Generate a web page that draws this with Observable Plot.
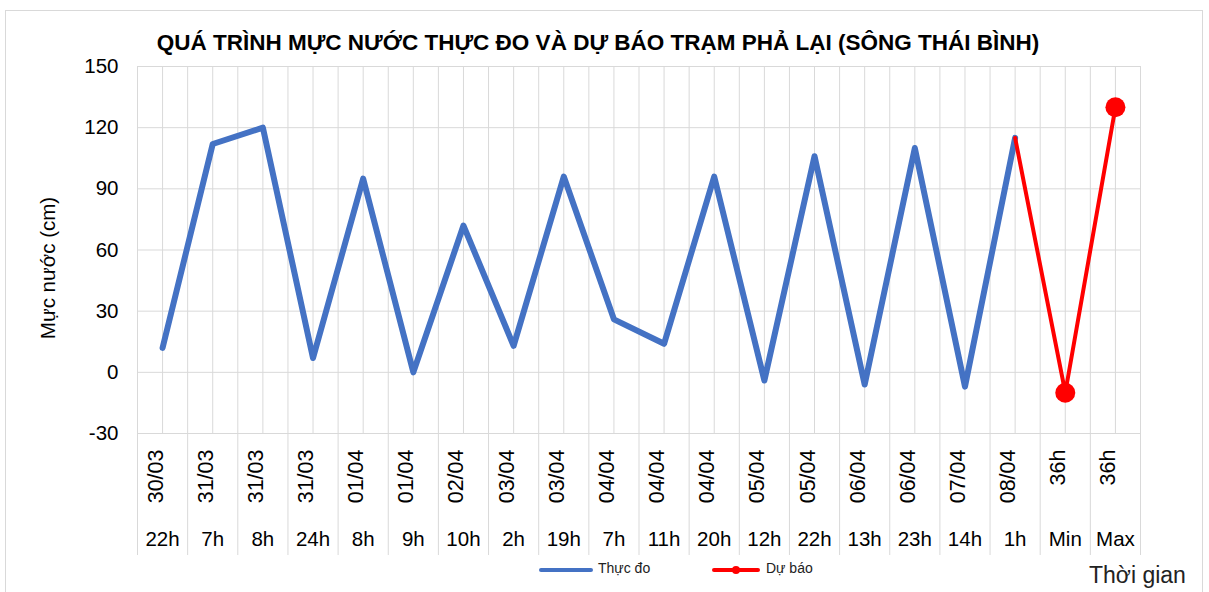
<!DOCTYPE html>
<html>
<head>
<meta charset="utf-8">
<script src="https://cdn.jsdelivr.net/npm/d3@7"></script>
<script src="https://cdn.jsdelivr.net/npm/@observablehq/plot@0.6"></script>
<style>
  html, body { margin: 0; padding: 0; background: #fff; }
  #wrap { position: relative; width: 1209px; height: 592px; overflow: hidden; font-family: "Liberation Sans", Arial, sans-serif; }
  #frame { position: absolute; left: 5px; top: 10px; width: 1198px; height: 640px; border: 1px solid #d9d9d9; box-sizing: border-box; }
  #chart { position: absolute; left: 0; top: 0; }
  .abs { position: absolute; white-space: nowrap; color: #000; }
  #title { left: 0; width: 1196px; top: 30px; text-align: center; font-weight: bold; font-size: 22.5px; }
  .legline { position: absolute; height: 4px; border-radius: 2px; }
  .legtxt { font-size: 14px; top: 560px; color: #222; }
  #xlabel { left: 1089px; top: 562px; font-size: 23px; color: #222; }
</style>
</head>
<body>
<div id="wrap">
  <div id="frame"></div>
  <div id="chart"></div>
  <div class="abs" id="title">QUÁ TRÌNH MỰC NƯỚC THỰC ĐO VÀ DỰ BÁO TRẠM PHẢ LẠI (SÔNG THÁI BÌNH)</div>
  <div class="legline" style="left:539px; top:568px; width:54px; background:#4472C4;"></div>
  <div class="abs legtxt" style="left:598px;">Thực đo</div>
  <div class="legline" style="left:712px; top:568px; width:48px; background:#ff0000;"></div>
  <div class="legline" style="left:732px; top:566px; width:8px; height:8px; border-radius:4px; background:#ff0000;"></div>
  <div class="abs legtxt" style="left:766px;">Dự báo</div>
  <div class="abs" id="xlabel">Thời gian</div>
</div>
<script>
const dates = ["30/03","31/03","31/03","31/03","01/04","01/04","02/04","03/04","03/04","04/04","04/04","04/04","05/04","05/04","06/04","06/04","07/04","08/04","36h","36h"];
const hours = ["22h","7h","8h","24h","8h","9h","10h","2h","19h","7h","11h","20h","12h","22h","13h","23h","14h","1h","Min","Max"];
const observed = [12,112,120,7,95,0,72,13,96,26,14,96,-4,106,-6,110,-7,115];
const forecast = [null,null,null,null,null,null,null,null,null,null,null,null,null,null,null,null,null,115,-10,130];
const forecastMarker = [false,false,false,false,false,false,false,false,false,false,false,false,false,false,false,false,false,false,true,true];
const yTicks = [-30,0,30,60,90,120,150];

const cats = dates.map((d, i) => ({i, date: d, hour: hours[i], obs: observed[i], fc: forecast[i], mk: forecastMarker[i]}));
const obsData = cats.filter(d => d.obs != null);
const fcData = cats.filter(d => d.fc != null);
const grid = "#d9d9d9";
const font = "Liberation Sans, Arial, sans-serif";

const chart = Plot.plot({
  width: 1209,
  height: 592,
  marginLeft: 137,
  marginRight: 69,
  marginTop: 66,
  marginBottom: 159,
  style: {fontFamily: font, background: "transparent", overflow: "visible"},
  x: {domain: [0, cats.length], axis: null},
  y: {domain: [-30, 150], axis: null},
  marks: [
    Plot.gridY(yTicks, {stroke: grid, strokeOpacity: 1, strokeWidth: 1}),
    Plot.gridX(cats.map(d => d.i + 0.5), {stroke: grid, strokeOpacity: 1, strokeWidth: 1}),
    Plot.axisX(d3.range(0, cats.length + 1), {anchor: "bottom", tickSize: 122, stroke: grid, strokeOpacity: 1, tickFormat: () => "", label: null}),
    Plot.gridX(d3.range(0, cats.length + 1), {stroke: grid, strokeOpacity: 1, strokeWidth: 1}),
    Plot.axisY(yTicks, {anchor: "left", tickSize: 0, tickPadding: 19, fontSize: 20.5, fill: "#000", label: null, tickFormat: d => String(d)}),
    Plot.text(["Mực nước (cm)"], {frameAnchor: "left", textAnchor: "middle", dx: -89, dy: 18, rotate: -90, fontSize: 20.5, fill: "#000"}),
    Plot.text(cats, {x: d => d.i + 0.5, text: "date", frameAnchor: "bottom", rotate: -90, textAnchor: "end", dy: 16, fontSize: 21.5, fill: "#000"}),
    Plot.text(cats, {x: d => d.i + 0.5, text: "hour", frameAnchor: "bottom", dy: 112, fontSize: 20.5, fill: "#000"}),
    Plot.line(obsData, {x: d => d.i + 0.5, y: "obs", stroke: "#4472C4", strokeWidth: 6, strokeLinejoin: "round", strokeLinecap: "round"}),
    Plot.line(fcData, {x: d => d.i + 0.5, y: "fc", stroke: "#ff0000", strokeWidth: 4, strokeLinejoin: "round"}),
    Plot.dot(fcData.filter(d => d.mk), {x: d => d.i + 0.5, y: "fc", r: 10, fill: "#ff0000", stroke: "none"})
  ]
});
document.getElementById("chart").appendChild(chart);
</script>
</body>
</html>
